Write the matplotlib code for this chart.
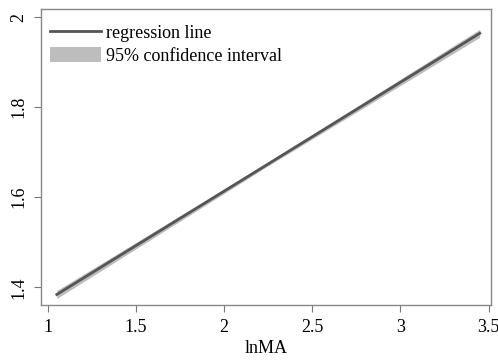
import numpy as np
import matplotlib
matplotlib.use("Agg")
import matplotlib.pyplot as plt

# fitted regression line and 95% CI
ln_ma = [1.05, 2.25, 3.45]
fit = [1.384, 1.674, 1.964]
ci_lo = [1.375, 1.670, 1.955]
ci_hi = [1.393, 1.678, 1.973]

xticks = [1, 1.5, 2, 2.5, 3, 3.5]
xticklabels = ["1", "1.5", "2", "2.5", "3", "3.5"]
yticks = [1.4, 1.6, 1.8, 2.0]
yticklabels = ["1.4", "1.6", "1.8", "2"]

plt.rcParams["font.family"] = ["Liberation Serif", "DejaVu Serif"]

fig = plt.figure(figsize=(4.98, 3.6), dpi=100)
ax = fig.add_axes([0.0823, 0.152, 0.904, 0.823])

ax.fill_between(ln_ma, ci_lo, ci_hi, color="#bdbdbd", lw=0, label="95% confidence interval")
ax.plot(ln_ma, fit, color="#555555", lw=2.0, label="regression line")

ax.set_xlim(0.96, 3.515)
ax.set_ylim(1.36, 2.018)
ax.set_xticks(xticks)
ax.set_xticklabels(xticklabels)
ax.set_yticks(yticks)
ax.set_yticklabels(yticklabels, rotation=90, va="center")
ax.tick_params(direction="out", length=5, color="#777777", labelsize=13, pad=5)
for sp in ax.spines.values():
    sp.set_color("#888888")
    sp.set_linewidth(1.0)
ax.set_xlabel("lnMA", fontsize=13, labelpad=3)

h, l = ax.get_legend_handles_labels()
ax.legend([h[1], h[0]], [l[1], l[0]], loc="upper left", bbox_to_anchor=(0.0, 0.98),
          frameon=False, fontsize=13, handlelength=2.8, handleheight=0.9,
          borderaxespad=0.2, labelspacing=0.3, handletextpad=0.3, borderpad=0.3)

fig.savefig("out.png", dpi=100)
